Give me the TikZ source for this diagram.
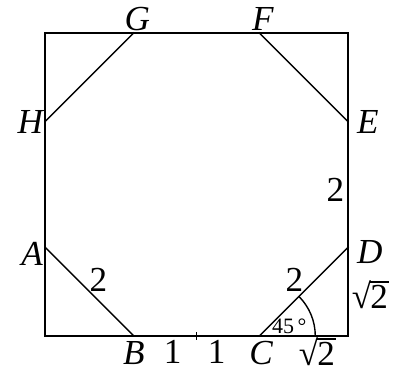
\documentclass[tikz,border=0pt]{standalone}
\usepackage{fontspec}
\setmainfont{Liberation Serif}
\usepackage{tikz}
\usetikzlibrary{calc,positioning}
\newcommand{\sqtwo}{\mbox{√\kern-0.02em\rlap{\rule[0.74em]{0.52em}{0.05em}}2}}

\begin{document}
\begin{tikzpicture}[
    x=1.2552cm,y=1.2552cm,
    edge/.style={line width=0.8pt,line cap=rect},
    ptlabel/.style={font=\fontsize{20}{24}\selectfont\itshape,inner sep=1pt},
    lenlabel/.style={font=\fontsize{20}{24}\selectfont,inner sep=2pt},
    anglabel/.style={font=\fontsize{12.5}{15}\selectfont,inner sep=0pt}
  ]
    \useasboundingbox (-0.9cm,-0.68cm) rectangle (6.98cm,6.72cm);

    % square corners
    \coordinate (P1) at (0,0);
    \coordinate (P2) at (4.82843,0);
    \coordinate (P3) at (4.82843,4.82843);
    \coordinate (P4) at (0,4.82843);
    % octagon vertices
    \coordinate (A) at (0,1.41421);
    \coordinate (B) at (1.41421,0);
    \coordinate (C) at (3.41421,0);
    \coordinate (D) at (4.82843,1.41421);
    \coordinate (E) at (4.82843,3.41421);
    \coordinate (F) at (3.41421,4.82843);
    \coordinate (G) at (1.41421,4.82843);
    \coordinate (H) at (0,3.41421);
    \coordinate (T) at (2.41421,0);

    \draw[edge] (P1) -- (P2) -- (P3) -- (P4) -- cycle;
    \draw[edge] (A) -- (B);
    \draw[edge] (D) -- (C);
    \draw[edge] (E) -- (F);
    \draw[edge] (G) -- (H);

    % tick and angle
    \draw[line width=0.8pt] ($(T)+(0,0.07cm)$) -- ($(T)+(0,-0.08cm)$);
    \draw[line width=0.8pt] ($(C)+(1.12cm,0)$) arc[start angle=0,end angle=45,radius=1.12cm];
    \node[anglabel] (ang) at ($(C)+(0.6cm,0.2cm)$) {45\,°};

    % vertex labels
    \node[ptlabel,above=0pt of G,xshift=2pt] (lG) {G};
    \node[ptlabel,above=0pt of F,xshift=2pt] (lF) {F};
    \node[ptlabel,left=0pt of H] (lH) {H};
    \node[ptlabel,right=4pt of E] (lE) {E};
    \node[ptlabel,left=0pt of A,yshift=-4pt] (lA) {A};
    \node[ptlabel,right=4pt of D,yshift=-3pt] (lD) {D};
    \node[ptlabel,below=2pt of B] (lB) {B};
    \node[ptlabel,below=2pt of C,xshift=1pt] (lC) {C};

    % lengths
    \path (A) -- (B) node[lenlabel,midway,above right,inner sep=0pt] (lAB) {2};
    \path (C) -- (D) node[lenlabel,midway,above left,inner sep=0pt] (lCD) {2};
    \path (D) -- (E) node[lenlabel,midway,left,yshift=-3pt] (lDE) {2};
    \path (B) -- (T) node[lenlabel,pos=0.62,below] (lBT) {1};
    \path (T) -- (C) node[lenlabel,pos=0.32,below] (lTC) {1};
    \path (C) -- (P2) node[lenlabel,pos=0.65,below,inner sep=1pt] (lCP) {\sqtwo};
    \path (P2) -- (D) node[lenlabel,midway,right,inner sep=2pt,yshift=-2pt] (lPD) {\sqtwo};
  \end{tikzpicture}
\end{document}
